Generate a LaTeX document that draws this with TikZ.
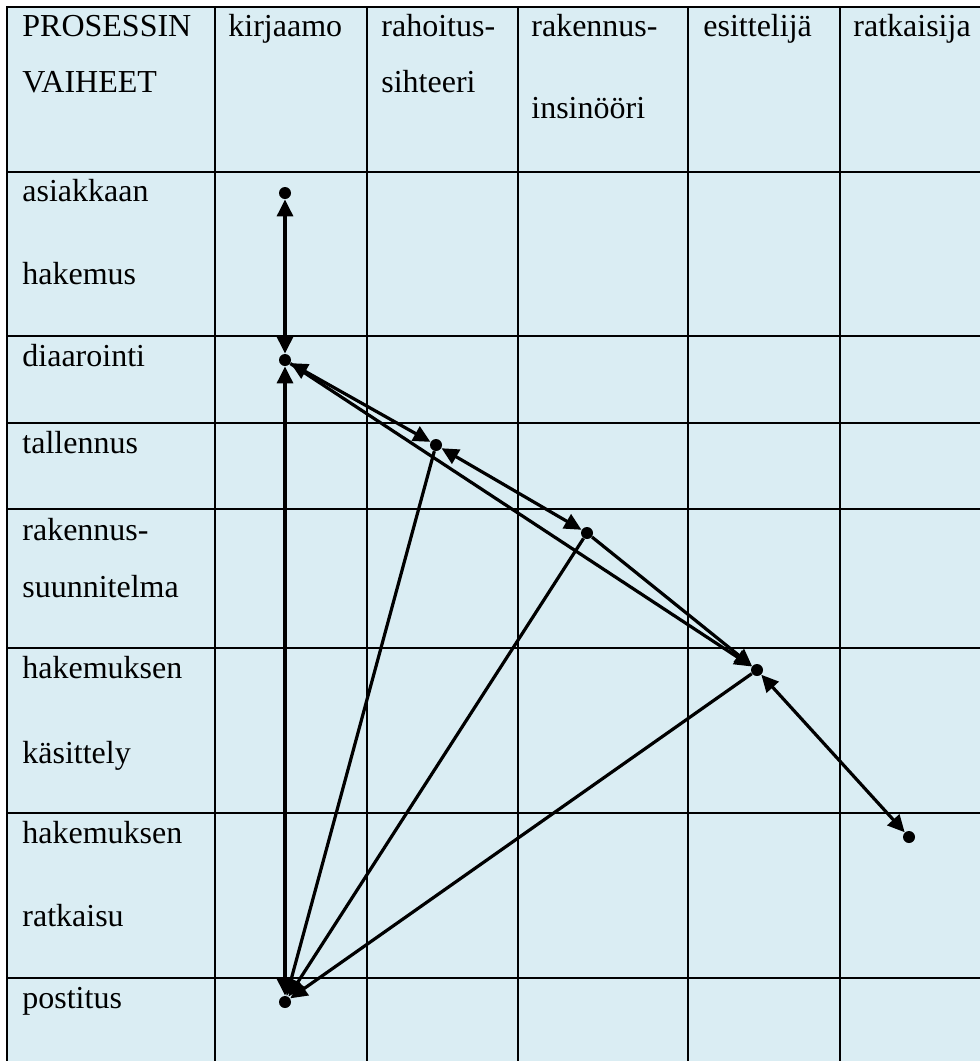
\documentclass[tikz,border=0pt]{standalone}
\usepackage{fontspec}
\setmainfont{Liberation Serif}
\usepackage{xcolor}
\definecolor{cellblue}{RGB}{218,237,243}
\usepackage{tikz}
\usetikzlibrary{arrows.meta,positioning}

\begin{document}
\begin{tikzpicture}[x=0.5pt,y=-0.5pt,
    txt/.style={anchor=base west,inner sep=0pt,font=\fontsize{16}{19}\selectfont},
    dot/.style={circle,fill=black,inner sep=0pt,minimum size=6pt},
    flow/.style={-{Triangle[length=8.5pt,width=8pt]},line width=1.6pt},
    flowboth/.style={{Triangle[length=8.5pt,width=8pt]}-{Triangle[length=8.5pt,width=8pt]},line width=1.6pt}]
  \useasboundingbox (0,0) rectangle (980,1061);
  \fill[cellblue] (7,7) rectangle (980,1061);
  % grid of the table
  \draw[line width=1.1pt] (7,1061) -- (7,7) -- (980,7);
  \draw[line width=0.9pt] (7,172) -- (980,172) (7,336) -- (980,336) (7,423) -- (980,423)
    (7,509) -- (980,509) (7,648) -- (980,648) (7,813) -- (980,813) (7,978) -- (980,978);
  \draw[line width=1.1pt] (215,7) -- (215,1061) (367,7) -- (367,1061) (518,7) -- (518,1061)
    (688,7) -- (688,1061) (840,7) -- (840,1061);
  % header
  \node[txt] (h0a) at (22,36) {PROSESSIN};
  \node[txt] (h0b) at (22,92) {VAIHEET};
  \node[txt] (h1) at (228,36) {kirjaamo};
  \node[txt] (h2a) at (381,36) {rahoitus-};
  \node[txt] (h2b) at (381,92) {sihteeri};
  \node[txt] (h3a) at (531,36) {rakennus-};
  \node[txt] (h3b) at (531,118) {insinööri};
  \node[txt] (h4) at (703,36) {esittelijä};
  \node[txt] (h5) at (853,36) {ratkaisija};
  % process steps
  \node[txt] (s1a) at (22,201) {asiakkaan};
  \node[txt] (s1b) at (22,284) {hakemus};
  \node[txt] (s2) at (22,366) {diaarointi};
  \node[txt] (s3) at (22,453) {tallennus};
  \node[txt] (s4a) at (22,540) {rakennus-};
  \node[txt] (s4b) at (22,597) {suunnitelma};
  \node[txt] (s5a) at (22,678) {hakemuksen};
  \node[txt] (s5b) at (22,763) {käsittely};
  \node[txt] (s6a) at (22,843) {hakemuksen};
  \node[txt] (s6b) at (22,926) {ratkaisu};
  \node[txt] (s7) at (22,1008) {postitus};
  % points of the flow
  \node[dot] (asi) at (285,193) {};
  \node[dot] (dia) at (285,360) {};
  \node[dot] (tal) at (436,445) {};
  \node[dot] (rak) at (587,533) {};
  \node[dot] (kas) at (757,670) {};
  \node[dot] (rat) at (909,837) {};
  \node[dot] (pos) at (285,1002) {};
  \draw[flowboth] (asi) -- (dia);
  \draw[flowboth] (dia) -- (pos);
  \draw[flowboth] (dia) -- (tal);
  \draw[flow] (dia) -- (kas);
  \draw[flowboth] (tal) -- (rak);
  \draw[flow] (rak) -- (kas);
  \draw[flowboth] (kas) -- (rat);
  \draw[flow] (tal) -- (pos);
  \draw[flow] (rak) -- (pos);
  \draw[flow] (kas) -- (pos);
\end{tikzpicture}
\end{document}
